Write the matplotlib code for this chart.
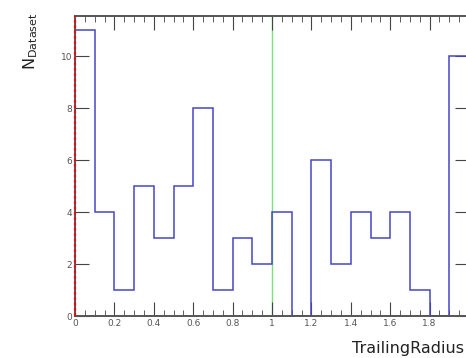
import numpy as np
import matplotlib
matplotlib.use("Agg")
import matplotlib.pyplot as plt
from matplotlib.ticker import MultipleLocator

# histogram contents, 20 bins of width 0.1 from 0 to 2
bin_edges = [0.0, 0.1, 0.2, 0.3, 0.4, 0.5, 0.6, 0.7, 0.8, 0.9, 1.0,
             1.1, 1.2, 1.3, 1.4, 1.5, 1.6, 1.7, 1.8, 1.9, 2.0]
counts = [11, 4, 1, 5, 3, 5, 8, 1, 3, 2, 4, 0, 6, 2, 4, 3, 4, 1, 0, 10]
red_cut = 0.0
green_cut = 1.0

fig = plt.figure(figsize=(4.66, 3.58), dpi=100)
ax = fig.add_axes([75/466, 1-316/358, (469-75)/466, (316-16)/358])

ax.stairs(counts, bin_edges, color='#4646c8', lw=1.1, zorder=2)
ax.axvline(green_cut, color='#7de07d', lw=1, zorder=1)

ax.set_xlim(0, 2)
ax.set_ylim(0, 11.55)
ax.xaxis.set_major_locator(MultipleLocator(0.2))
ax.xaxis.set_minor_locator(MultipleLocator(0.05))
ax.yaxis.set_major_locator(MultipleLocator(2))
ax.xaxis.set_major_formatter(plt.FuncFormatter(lambda v, p: f"{v:g}"))
ax.tick_params(which='both', direction='in', top=True, right=True,
               colors='#444444', labelcolor='#555555', labelsize=6.5, pad=2)
ax.tick_params(which='major', length=10)
ax.tick_params(which='minor', length=4.5)
for s in ax.spines.values():
    s.set_color('#555555')
    s.set_linewidth(1.4)
    s.set_zorder(4)
ax.axvline(red_cut, color='red', ls=(0, (1.2, 1.2)), lw=1.6, zorder=6,
           clip_on=False)

fig.text(0.995, 0.005, 'TrailingRadius', ha='right', va='bottom',
         fontsize=11.5, color='#222222')
fig.text(0.065, 0.965, r'N$_{\mathregular{Dataset}}$', rotation=90,
         ha='center', va='top', fontsize=11.5, color='#222222')

fig.savefig('out.png', dpi=100)
